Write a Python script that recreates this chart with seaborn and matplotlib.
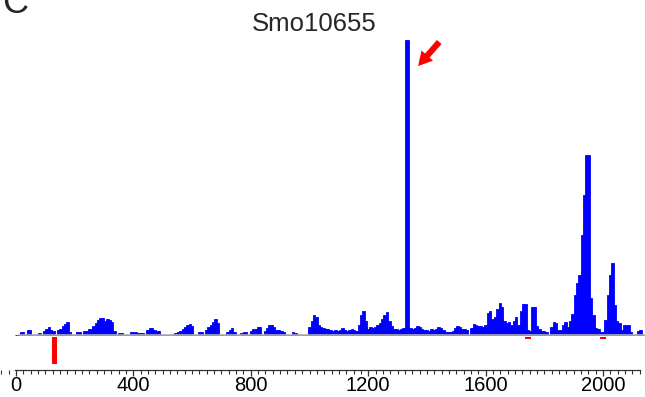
import numpy as np
import matplotlib.pyplot as plt
from matplotlib.ticker import FixedLocator, MultipleLocator, FuncFormatter
import seaborn as sns

# Positions along the transcript (nt) and read signal (arbitrary units)
blue_pos = [16, 24, 40, 48, 80, 96, 104, 112, 120, 128, 144, 152, 160, 168, 176, 184,
            208, 216, 232, 240, 248, 256, 264, 272, 280, 288, 296, 304, 312, 320, 328, 336,
            352, 360, 392, 400, 408, 416, 424, 432, 448, 456, 464, 472, 480, 488,
            544, 552, 560, 568, 576, 584, 592, 600, 624, 632, 648, 656, 664, 672, 680, 688,
            720, 728, 736, 744, 768, 776, 784, 800, 808, 816, 824, 832, 848, 856, 864, 872,
            880, 888, 896, 904, 912, 944, 952, 1000, 1008, 1016, 1024, 1032, 1040, 1048,
            1056, 1064, 1072, 1080, 1088, 1096, 1104, 1112, 1120, 1128, 1136, 1144, 1152,
            1160, 1168, 1176, 1184, 1192, 1200, 1208, 1216, 1224, 1232, 1240, 1248, 1256,
            1264, 1272, 1280, 1288, 1296, 1304, 1312, 1320, 1328, 1336, 1344, 1352, 1360,
            1368, 1376, 1384, 1392, 1400, 1408, 1416, 1424, 1432, 1440, 1448, 1456, 1464,
            1472, 1480, 1488, 1496, 1504, 1512, 1520, 1528, 1536, 1552, 1560, 1568, 1576,
            1584, 1592, 1600, 1608, 1616, 1624, 1632, 1640, 1648, 1656, 1664, 1672, 1680,
            1688, 1696, 1704, 1712, 1720, 1728, 1736, 1744, 1752, 1760, 1768, 1776, 1784,
            1792, 1800, 1808, 1824, 1832, 1840, 1848, 1856, 1864, 1872, 1880, 1888, 1896,
            1904, 1912, 1920, 1928, 1936, 1944, 1952, 1960, 1968, 1976, 1984, 1992, 2000,
            2008, 2016, 2024, 2032, 2040, 2048, 2056, 2064, 2072, 2080, 2088, 2096, 2120, 2128]
blue_val = [3, 3, 5, 5, 2, 4, 6, 8, 5, 4, 5, 6, 9, 11, 13, 3,
            3, 3, 4, 4, 6, 6, 9, 12, 15, 17, 17, 14, 16, 15, 13, 4,
            2, 2, 3, 3, 3, 2, 2, 2, 5, 7, 7, 5, 4, 4,
            2, 3, 4, 6, 8, 10, 11, 9, 3, 3, 5, 8, 10, 13, 16, 12,
            3, 5, 7, 3, 2, 3, 3, 4, 6, 6, 8, 8, 4, 7, 10, 10,
            8, 5, 5, 4, 3, 3, 2, 8, 14, 20, 18, 10, 8, 7,
            6, 6, 5, 4, 5, 4, 5, 7, 5, 4, 5, 6, 5,
            4, 10, 20, 24, 14, 6, 8, 7, 8, 10, 12, 16, 20,
            23, 14, 9, 6, 6, 5, 6, 7, 295, 295, 7, 6, 7,
            9, 8, 6, 5, 5, 4, 6, 5, 6, 8, 7, 5, 3,
            3, 3, 4, 7, 9, 8, 6, 6, 5, 7, 11, 10, 9,
            9, 8, 10, 22, 24, 16, 18, 26, 32, 28, 14, 12, 13,
            10, 14, 18, 10, 24, 31, 31, 5, 4, 28, 28, 9, 6,
            4, 4, 3, 8, 13, 12, 5, 5, 10, 13, 8, 14, 21,
            40, 52, 60, 100, 140, 180, 180, 37, 20, 7, 6, 3, 3,
            15, 40, 60, 72, 30, 14, 12, 5, 10, 10, 10, 3, 4, 5]

# Cleavage sites (shown below the baseline)
red_pos = [131, 1745, 2000]
red_val = [27, 2, 2]

title = "Smo10655"
panel = "C"
arrow_pos = 1370
major_ticks = [0, 400, 800, 1200, 1600, 2000]

sns.set_theme(style="ticks")
plt.rcParams['font.family'] = ['Liberation Sans', 'DejaVu Sans']

fig = plt.figure(figsize=(6.45, 3.97), dpi=100)
ax = fig.add_axes([0, 27 / 397, 1, 335 / 397])

sns.histplot(x=blue_pos, weights=blue_val, binwidth=8, binrange=(-4, 2140),
             color='#0000ff', alpha=1, edgecolor='#0000ff', linewidth=0.6, ax=ax)
ax.bar(red_pos, [-v for v in red_val], bottom=-1.5, width=20, color='#ff0000', linewidth=0)

ax.axhline(0, xmin=19 / 645, xmax=1, color='#b0b0b0', lw=1.2, zorder=3)

ax.set_xlim(-54.5, 2143)
ax.set_ylim(-34.5, 300)
ax.set_xlabel('')
ax.set_ylabel('')
ax.set_yticks([])
for s in ['left', 'top', 'right']:
    ax.spines[s].set_visible(False)
ax.spines['bottom'].set_bounds(-5, 2126)
ax.spines['bottom'].set_color('#333333')
ax.spines['bottom'].set_linewidth(0.9)

ax.xaxis.set_major_locator(FixedLocator(major_ticks))
ax.xaxis.set_minor_locator(MultipleLocator(25))
ax.xaxis.set_major_formatter(FuncFormatter(lambda v, p: f"{int(v)}"))
ax.tick_params(axis='x', which='major', direction='out', length=4, width=0.9,
               color='#333333', labelsize=14.5, pad=0.5, labelcolor='black')
ax.tick_params(axis='x', which='minor', direction='out', length=3, width=0.8,
               color='#333333')

# Red arrow pointing to the main peak
ax.annotate('', xy=(arrow_pos, 269), xytext=(arrow_pos + 72, 293),
            arrowprops=dict(arrowstyle='simple,head_width=0.55,head_length=0.5,tail_width=0.22',
                            color='#ff0000', lw=0, mutation_scale=20,
                            shrinkA=0, shrinkB=0))

fig.text(0.487, 1 - 31 / 397, title, ha='center', va='baseline', fontsize=18.5)
fig.text(0.004, 1 - 13 / 397, panel, ha='left', va='baseline', fontsize=26)

fig.savefig('out.png', dpi=100)
